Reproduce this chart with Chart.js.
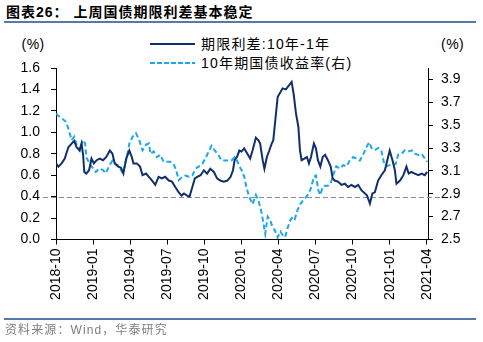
<!DOCTYPE html>
<html>
<head>
<meta charset="utf-8">
<script src="https://cdn.jsdelivr.net/npm/chart.js@4.4.0/dist/chart.umd.min.js"></script>
<style>
    body { margin: 0; width: 483px; height: 342px; background: #fff; position: relative; overflow: hidden;
           font-family: "Liberation Sans", Arial, "Noto Sans CJK SC", sans-serif; color: #000; }
    #chart { position: absolute; left: 0; top: 0; }
    .txt { position: absolute; white-space: nowrap; }
    .title { left: 6px; top: 3px; font-size: 14px; line-height: 18px; font-weight: bold; letter-spacing: 1px; }
    .rule { position: absolute; left: 4px; width: 472px; height: 2px; background: #5878ab; }
    .unit { top: 35px; font-size: 14px; line-height: 18px; letter-spacing: 0.5px; }
    .legend { left: 201px; font-size: 14px; line-height: 18px; letter-spacing: 1.2px; }
    .sw { position: absolute; left: 150px; width: 45px; height: 2px; }
    .source { left: 5px; top: 322px; font-size: 12px; line-height: 16px; letter-spacing: 1.1px; color: #7f7f7f; }
</style>
</head>
<body>
<div class="txt title">图表26：&nbsp;上周国债期限利差基本稳定</div>
<div class="rule" style="top:20.5px"></div>

<div class="txt unit" style="left:21.5px">(%)</div>
<div class="txt unit" style="left:441px">(%)</div>

<div class="sw" style="top:43px;background:#102f6b"></div>
<div class="txt legend" style="top:35px">期限利差:10年-1年</div>
<div class="sw" style="top:61.5px;background:repeating-linear-gradient(to right,#1aa7ec 0 5px,transparent 5px 7px)"></div>
<div class="txt legend" style="top:53.5px">10年期国债收益率(右)</div>

<canvas id="chart" width="483" height="342"></canvas>

<div class="rule" style="top:318.3px"></div>
<div class="txt source">资料来源：Wind，华泰研究</div>

<script>
// 期限利差 10年-1年 (左轴)
const spreadDates = [
    '2018-10-01','2018-10-07','2018-10-15','2018-10-23','2018-11-01','2018-11-09','2018-11-15','2018-11-21','2018-11-28',
    '2018-12-03','2018-12-07','2018-12-10','2018-12-15','2018-12-22','2018-12-28',
    '2019-01-03','2019-01-10','2019-01-18','2019-01-26','2019-02-03','2019-02-11','2019-02-17','2019-02-22',
    '2019-03-02','2019-03-09','2019-03-15','2019-03-22','2019-03-30','2019-04-05','2019-04-09','2019-04-17','2019-04-25',
    '2019-05-01','2019-05-10','2019-05-17','2019-05-25','2019-06-02','2019-06-10','2019-06-18','2019-06-26',
    '2019-07-05','2019-07-13','2019-07-21','2019-07-30','2019-08-06','2019-08-12','2019-08-20','2019-08-26',
    '2019-09-02','2019-09-08','2019-09-14','2019-09-22','2019-09-30','2019-10-08','2019-10-16','2019-10-25',
    '2019-11-02','2019-11-10','2019-11-18','2019-11-27','2019-12-05','2019-12-11','2019-12-15','2019-12-21','2019-12-27',
    '2020-01-01','2020-01-08','2020-01-16','2020-01-23','2020-01-29','2020-02-06','2020-02-12','2020-02-16','2020-02-22','2020-02-26',
    '2020-03-03','2020-03-09','2020-03-15','2020-03-19','2020-03-24','2020-03-30','2020-04-06','2020-04-11','2020-04-19','2020-04-27',
    '2020-05-03','2020-05-08','2020-05-14','2020-05-20','2020-05-24','2020-05-28','2020-06-04','2020-06-10','2020-06-15','2020-06-20','2020-06-27',
    '2020-07-02','2020-07-07','2020-07-13','2020-07-19','2020-07-25','2020-08-01','2020-08-08','2020-08-13','2020-08-18','2020-08-26',
    '2020-09-04','2020-09-12','2020-09-20','2020-09-28','2020-10-07','2020-10-15','2020-10-23',
    '2020-11-01','2020-11-06','2020-11-13','2020-11-19','2020-11-25','2020-12-03','2020-12-11','2020-12-20','2020-12-26',
    '2021-01-01','2021-01-08','2021-01-14','2021-01-18','2021-01-27','2021-02-04','2021-02-11','2021-02-16','2021-02-22',
    '2021-03-02','2021-03-11','2021-03-19','2021-03-27','2021-04-02'
];
const spreadValues = [
    0.71, 0.68, 0.71, 0.755, 0.86, 0.895, 0.92, 0.86, 0.83,
    0.895, 0.79, 0.63, 0.615, 0.646, 0.755,
    0.71, 0.74, 0.755, 0.74, 0.77, 0.83, 0.80, 0.71,
    0.68, 0.67, 0.615, 0.755, 0.83, 0.77, 0.71, 0.71, 0.68,
    0.60, 0.615, 0.585, 0.55, 0.51, 0.585, 0.57, 0.585,
    0.55, 0.54, 0.49, 0.44, 0.41, 0.43, 0.41, 0.40,
    0.49, 0.57, 0.585, 0.60, 0.646, 0.615, 0.66, 0.63,
    0.57, 0.55, 0.54, 0.55, 0.585, 0.646, 0.74, 0.77, 0.83,
    0.82, 0.85, 0.80, 0.755, 0.83, 0.95, 0.925, 0.895, 0.74, 0.66,
    0.77, 0.83, 0.895, 0.925, 1.11, 1.33, 1.376, 1.41, 1.40, 1.44,
    1.47, 1.36, 1.175, 1.05, 0.83, 0.74, 0.755, 0.77, 0.71, 0.77, 0.895,
    0.85, 0.74, 0.68, 0.77, 0.79, 0.74, 0.68, 0.57, 0.55, 0.54,
    0.51, 0.52, 0.49, 0.51, 0.49, 0.51, 0.46,
    0.43, 0.41, 0.335, 0.43, 0.44, 0.55, 0.60, 0.646, 0.74,
    0.83, 0.74, 0.646, 0.52, 0.55, 0.60, 0.68, 0.615, 0.63,
    0.615, 0.60, 0.615, 0.60, 0.63
];

// 10年期国债收益率 (右轴)
const yieldDates = [
    '2018-10-01','2018-10-11','2018-10-19','2018-10-26','2018-11-01','2018-11-09','2018-11-15','2018-11-21','2018-11-29',
    '2018-12-06','2018-12-12','2018-12-15','2018-12-24',
    '2019-01-01','2019-01-08','2019-01-16','2019-01-25','2019-02-02','2019-02-09','2019-02-17','2019-02-25',
    '2019-03-05','2019-03-13','2019-03-22','2019-03-30','2019-04-07','2019-04-15','2019-04-23',
    '2019-05-01','2019-05-10','2019-05-17','2019-05-21','2019-05-29','2019-06-06','2019-06-14','2019-06-22',
    '2019-07-01','2019-07-09','2019-07-17','2019-07-23','2019-07-30','2019-08-08','2019-08-15','2019-08-24',
    '2019-09-02','2019-09-10','2019-09-18','2019-09-26','2019-10-04','2019-10-12','2019-10-19','2019-10-27',
    '2019-11-05','2019-11-13','2019-11-21','2019-11-29','2019-12-07','2019-12-15','2019-12-21','2019-12-27',
    '2020-01-01','2020-01-08','2020-01-14','2020-01-21','2020-01-29','2020-02-06','2020-02-12','2020-02-18','2020-02-24','2020-02-28',
    '2020-03-05','2020-03-11','2020-03-17','2020-03-23','2020-03-30','2020-04-06','2020-04-11','2020-04-17','2020-04-23','2020-04-30',
    '2020-05-06','2020-05-11','2020-05-18','2020-05-25','2020-05-31','2020-06-08','2020-06-14','2020-06-20','2020-06-27',
    '2020-07-02','2020-07-08','2020-07-13','2020-07-19','2020-07-25','2020-08-01','2020-08-08','2020-08-14','2020-08-22','2020-08-31',
    '2020-09-08','2020-09-16','2020-09-24','2020-10-02','2020-10-11','2020-10-19','2020-10-27',
    '2020-11-05','2020-11-11','2020-11-17','2020-11-25','2020-12-03','2020-12-11','2020-12-17','2020-12-24','2020-12-31',
    '2021-01-08','2021-01-16','2021-01-22','2021-01-31','2021-02-07','2021-02-15','2021-02-23',
    '2021-03-02','2021-03-11','2021-03-19','2021-03-27','2021-04-02'
];
const yieldValues = [
    3.60, 3.57, 3.55, 3.53, 3.47, 3.37, 3.40, 3.33, 3.28,
    3.37, 3.34, 3.22, 3.16,
    3.12, 3.09, 3.12, 3.11, 3.08, 3.14, 3.19, 3.16,
    3.14, 3.08, 3.19, 3.34, 3.40, 3.43, 3.37,
    3.28, 3.33, 3.34, 3.25, 3.27, 3.22, 3.24, 3.18,
    3.18, 3.18, 3.16, 3.11, 3.02, 3.05, 3.06, 3.05,
    3.06, 3.12, 3.14, 3.16, 3.21, 3.27, 3.32, 3.28,
    3.24, 3.19, 3.19, 3.19, 3.19, 3.22, 3.19, 3.14,
    3.11, 3.05, 2.95, 2.87, 2.81, 2.89, 2.84, 2.76, 2.64, 2.55,
    2.70, 2.67, 2.61, 2.58, 2.52, 2.57, 2.54, 2.52, 2.60, 2.67,
    2.70, 2.68, 2.76, 2.81, 2.84, 2.87, 2.90, 2.95, 3.05,
    3.06, 2.93, 2.89, 2.96, 2.97, 2.97, 2.99, 3.06, 3.14, 3.12,
    3.15, 3.14, 3.19, 3.22, 3.21, 3.19, 3.24,
    3.31, 3.35, 3.30, 3.28, 3.30, 3.28, 3.18, 3.14, 3.15,
    3.15, 3.16, 3.24, 3.25, 3.28, 3.27, 3.28,
    3.25, 3.24, 3.25, 3.21, 3.18
];

const xTickLabels = ['2018-10','2019-01','2019-04','2019-07','2019-10','2020-01','2020-04','2020-07','2020-10','2021-01','2021-04'];
const leftTicks = [0.0, 0.2, 0.4, 0.6, 0.8, 1.0, 1.2, 1.4, 1.6];
const rightTicks = [2.5, 2.7, 2.9, 3.1, 3.3, 3.5, 3.7, 3.9];
const spreadRef = 0.4;

const NAVY = '#102f6b';
const SKY = '#1aa7ec';
const FONT = '"Liberation Sans", Arial, "Noto Sans CJK SC", sans-serif';

// 以2018-10为起点的月份位置
function monthPos(s) {
    const [y, m, d] = s.split('-').map(Number);
    const dim = new Date(y, m, 0).getDate();
    return (y - 2018) * 12 + (m - 10) + ((d || 1) - 1) / dim;
}

const xTickPos = xTickLabels.map(l => monthPos(l + '-01'));

// 0.4 参考虚线
const refLine = {
    id: 'refLine',
    beforeDatasetsDraw(chart) {
        const { ctx, scales } = chart;
        const py = Math.round(scales.y.getPixelForValue(spreadRef)) + 0.5;
        ctx.save();
        ctx.strokeStyle = '#7b8bb2';
        ctx.lineWidth = 1.2;
        ctx.setLineDash([5, 3]);
        ctx.beginPath();
        ctx.moveTo(scales.x.left - 13, py);
        ctx.lineTo(scales.x.right + 15, py);
        ctx.stroke();
        ctx.restore();
    }
};

const axisGrid = { display: true, drawOnChartArea: false, drawTicks: true, tickLength: 5, color: '#000', lineWidth: 1 };
const axisBorder = { display: true, color: '#000', width: 1 };
const tickFont = { family: FONT, size: 14 };

new Chart(document.getElementById('chart').getContext('2d'), {
    type: 'line',
    data: {
        datasets: [{
            label: '期限利差:10年-1年',
            data: spreadDates.map((d, i) => ({ x: monthPos(d), y: spreadValues[i] })),
            yAxisID: 'y',
            borderColor: NAVY,
            borderWidth: 2,
            pointRadius: 0,
            tension: 0
        }, {
            label: '10年期国债收益率(右)',
            data: yieldDates.map((d, i) => ({ x: monthPos(d), y: yieldValues[i] })),
            yAxisID: 'y1',
            borderColor: SKY,
            borderWidth: 2,
            borderDash: [5, 3],
            pointRadius: 0,
            tension: 0
        }]
    },
    options: {
        responsive: false,
        animation: false,
        devicePixelRatio: 1,
        layout: { padding: { top: 68, left: 0, right: 0, bottom: 0 } },
        plugins: { legend: { display: false }, tooltip: { enabled: false } },
        scales: {
            x: {
                type: 'linear', position: 'bottom', min: 0, max: 30.1,
                afterBuildTicks: s => { s.ticks = xTickPos.map(v => ({ value: v })); },
                afterFit: s => { s.height = 102.5; },
                ticks: {
                    callback: (v, i) => xTickLabels[i],
                    autoSkip: false, maxRotation: 90, minRotation: 90,
                    font: tickFont, color: '#000', padding: 4
                },
                grid: axisGrid,
                border: axisBorder
            },
            y: {
                type: 'linear', position: 'left', min: 0, max: 1.6,
                afterBuildTicks: s => { s.ticks = leftTicks.map(v => ({ value: v })); },
                afterFit: s => { s.width = 56; },
                ticks: { callback: v => v.toFixed(1), font: tickFont, color: '#000', padding: 11 },
                grid: axisGrid,
                border: axisBorder
            },
            y1: {
                type: 'linear', position: 'right', min: 2.5, max: 4.0,
                afterBuildTicks: s => { s.ticks = rightTicks.map(v => ({ value: v })); },
                afterFit: s => { s.width = 55; },
                ticks: { callback: v => v.toFixed(1), font: tickFont, color: '#000', padding: 8 },
                grid: axisGrid,
                border: axisBorder
            }
        }
    },
    plugins: [refLine]
});
</script>
</body>
</html>
